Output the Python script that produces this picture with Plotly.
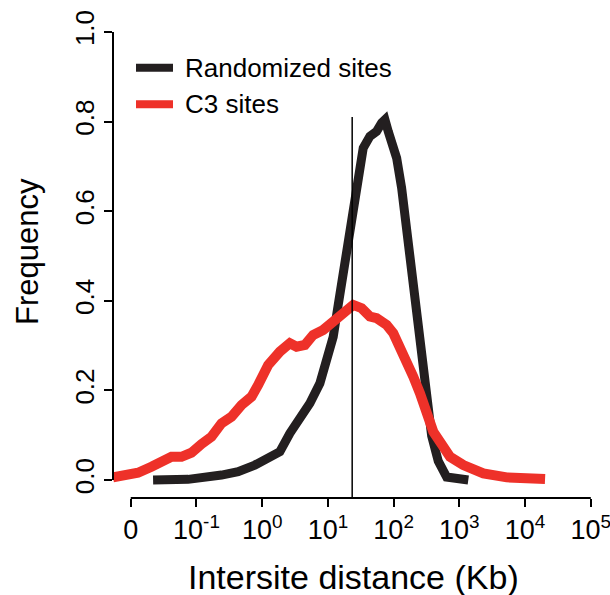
import plotly.graph_objects as go

# Intersite distance (Kb) and frequency
random_dist = [0.02188, 0.0746, 0.2404, 0.4305, 0.7727, 1.233, 1.858, 2.637, 3.743, 5.318,
               7.551, 10.09, 12.05, 14.35, 18.15, 22.96, 27.35, 30.69, 34.46, 43.55, 55.08,
               65.74, 73.79, 82.79, 93.33, 111.2, 132.4, 157.8, 187.9, 224.4, 267.3, 318.4,
               379.3, 477.5, 641.2, 1368]
random_freq = [0.0, 0.0016, 0.0112, 0.0185, 0.0335, 0.0485, 0.0632, 0.1043, 0.134, 0.1713,
               0.216, 0.2754, 0.320, 0.391, 0.480, 0.5696, 0.644, 0.6886, 0.741, 0.767, 0.778,
               0.797, 0.804, 0.778, 0.748, 0.7186, 0.6516, 0.5546, 0.4653, 0.3619, 0.2531,
               0.1698, 0.0983, 0.0424, 0.0067, 0.0]

c3_dist = [0.00537, 0.0081, 0.0129, 0.02065, 0.02934, 0.04169, 0.05916, 0.08401, 0.1193,
           0.1694, 0.2405, 0.3416, 0.4851, 0.6887, 0.868, 1.233, 1.858, 2.637, 3.334, 4.463,
           5.973, 8.479, 12.04, 17.1, 24.27, 32.58, 43.55, 55.08, 78.3, 98.7, 124.7, 157.8,
           199.1, 251.8, 318.4, 401.3, 570.2, 720.8, 1149, 2316, 5262, 20140]
c3_freq = [0.006, 0.0112, 0.0163, 0.0297, 0.0386, 0.052, 0.052, 0.061, 0.0804, 0.0967,
           0.1266, 0.1414, 0.1675, 0.1861, 0.2122, 0.2569, 0.2866, 0.3053, 0.2977, 0.3015,
           0.3239, 0.335, 0.3536, 0.3759, 0.3909, 0.3835, 0.3648, 0.3612, 0.3462, 0.3277,
           0.2904, 0.2607, 0.2307, 0.1937, 0.149, 0.1079, 0.0744, 0.052, 0.0335, 0.015,
           0.006, 0.0022]

threshold_kb = 23.4
threshold_top = 0.81

x_tickvals = [0.01, 0.1, 1, 10, 100, 1000, 10000, 100000]
x_ticktext = ["0", "10<sup>-1</sup>", "10<sup>0</sup>", "10<sup>1</sup>", "10<sup>2</sup>",
              "10<sup>3</sup>", "10<sup>4</sup>", "10<sup>5</sup>"]
y_tickvals = [0.0, 0.2, 0.4, 0.6, 0.8, 1.0]
y_ticktext = ["0.0", "0.2", "0.4", "0.6", "0.8", "1.0"]

series_names = ["Randomized sites", "C3 sites"]
BLACK = "#231f20"
RED = "#ee3129"
FONT = "Liberation Sans, Arial, sans-serif"

fig = go.Figure()
fig.add_trace(go.Scatter(x=random_dist, y=random_freq, mode="lines", name=series_names[0],
                         line=dict(color=BLACK, width=9), showlegend=False))
fig.add_trace(go.Scatter(x=c3_dist, y=c3_freq, mode="lines", name=series_names[1],
                         line=dict(color=RED, width=10), showlegend=False))

shapes = [
    # detached x axis line
    dict(type="line", xref="x", yref="paper", x0=x_tickvals[0], x1=x_tickvals[-1], y0=0, y1=0,
         line=dict(color="black", width=2)),
    # detached y axis line
    dict(type="line", xref="paper", yref="y", x0=0, x1=0, y0=y_tickvals[0], y1=y_tickvals[-1],
         line=dict(color="black", width=2)),
    # threshold line
    dict(type="line", xref="x", yref="paper", x0=threshold_kb, x1=threshold_kb, y0=0,
         y1=(threshold_top + 0.04) / 1.08, line=dict(color="black", width=1.5)),
]
# legend samples
legend_y = [66.7, 103.3]
colors = [BLACK, RED]
for i, (name, c) in enumerate(zip(series_names, colors)):
    shapes.append(dict(type="line", xref="paper", yref="paper",
                       x0=(136 - 113) / 487, x1=(173 - 113) / 487,
                       y0=(497 - legend_y[i]) / 484, y1=(497 - legend_y[i]) / 484,
                       line=dict(color=c, width=8)))

annotations = []
for i, name in enumerate(series_names):
    annotations.append(dict(text=name, xref="paper", yref="paper", x=(183 - 113) / 487,
                            y=(497 - legend_y[i]) / 484, xanchor="left", yanchor="middle",
                            showarrow=False, font=dict(size=26, color="black", family=FONT)))
annotations.append(dict(text="Intersite distance (Kb)", xref="paper", yref="paper",
                        x=(353 - 113) / 487, y=(497 - 576) / 484, xanchor="center",
                        yanchor="middle", showarrow=False,
                        font=dict(size=34, color="black", family=FONT)))
annotations.append(dict(text="Frequency", xref="paper", yref="paper",
                        x=(27 - 113) / 487, y=(497 - 251) / 484, xanchor="center",
                        yanchor="middle", textangle=-90, showarrow=False,
                        font=dict(size=31, color="black", family=FONT)))

fig.update_layout(
    width=610, height=595,
    margin=dict(l=113, r=10, t=14, b=97),
    paper_bgcolor="white", plot_bgcolor="white",
    font=dict(family=FONT, color="black"),
    shapes=shapes, annotations=annotations,
    xaxis=dict(type="log", range=[-2.27, 5.14], showgrid=False, zeroline=False, showline=False,
               automargin=False,
               ticks="outside", ticklen=8, tickwidth=2, tickcolor="black",
               tickvals=x_tickvals, ticktext=x_ticktext, ticklabeloverflow="allow",
               tickfont=dict(size=27, family=FONT, color="black")),
    yaxis=dict(range=[-0.04, 1.04], showgrid=False, zeroline=False, showline=False,
               automargin=False,
               ticks="outside", ticklen=8, tickwidth=2, tickcolor="black",
               tickvals=y_tickvals, ticktext=y_ticktext, tickangle=-90,
               tickfont=dict(size=26, family=FONT, color="black")),
)

fig.write_html("out.html")
